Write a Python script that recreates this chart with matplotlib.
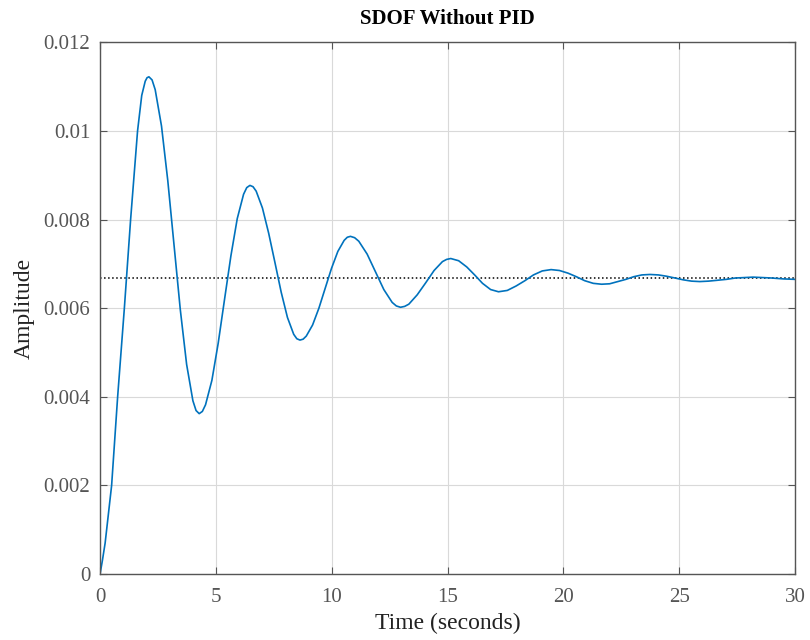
import numpy as np
import matplotlib
matplotlib.use('Agg')
from matplotlib import pyplot as plt
from matplotlib.ticker import FuncFormatter

# step response
time_s = [0, 0.1, 0.22, 0.5, 0.76, 1.05, 1.32, 1.47, 1.62, 1.8, 1.95, 2.03, 2.11,
          2.246, 2.381, 2.653, 2.924, 3.195, 3.466, 3.738, 4.009, 4.145, 4.28,
          4.417, 4.554, 4.828, 5.101, 5.375, 5.649, 5.923, 6.196, 6.333, 6.47,
          6.605, 6.74, 7.01, 7.28, 7.55, 7.82, 8.09, 8.36, 8.495, 8.63,
          8.766, 8.903, 9.175, 9.448, 9.72, 9.993, 10.265, 10.538, 10.674, 10.81,
          10.99, 11.17, 11.53, 11.89, 12.25, 12.61, 12.79, 12.97,
          13.15, 13.33, 13.69, 14.055, 14.42, 14.78, 14.96, 15.14,
          15.48, 15.83, 16.17, 16.51, 16.86, 17.2,
          17.58, 17.96, 18.34, 18.71, 19.09, 19.47,
          19.83, 20.2, 20.56, 20.92, 21.29, 21.65,
          22.0, 22.35, 22.7, 23.04, 23.39, 23.74,
          24.1, 24.46, 24.82, 25.17, 25.53, 25.89,
          26.27, 26.66, 27.04, 27.42, 27.81, 28.19,
          28.6, 29.0, 29.5, 30.0]
amplitude = [0, 0.0003, 0.0007, 0.0020, 0.0040, 0.0060, 0.0080, 0.0090, 0.0100, 0.0108,
             0.01112, 0.0112, 0.01122,
             0.01115, 0.01093, 0.01011, 0.00888, 0.00742, 0.00596, 0.00473, 0.00391,
             0.00369, 0.00362,
             0.00367, 0.00382, 0.00437, 0.00521, 0.00620, 0.00718, 0.00802, 0.00857,
             0.00872, 0.00877,
             0.00874, 0.00864, 0.00826, 0.00769, 0.00703, 0.00636, 0.00579, 0.00541,
             0.00531, 0.00528,
             0.00530, 0.00537, 0.00562, 0.00600, 0.00645, 0.00690, 0.00728, 0.00753,
             0.00760, 0.00762,
             0.00759, 0.00751, 0.00722, 0.00682, 0.00642, 0.00613, 0.00605, 0.00602,
             0.00604, 0.00609, 0.00630, 0.00657, 0.00685, 0.00705, 0.00710, 0.00712,
             0.00707, 0.00693, 0.00675, 0.00656, 0.00642, 0.00637,
             0.00640, 0.00650, 0.00662, 0.00675, 0.00684, 0.00687,
             0.00685, 0.00679, 0.00671, 0.00662, 0.00656, 0.00654,
             0.00655, 0.00660, 0.00665, 0.00671, 0.00675, 0.00676,
             0.00675, 0.00672, 0.00668, 0.00664, 0.00661, 0.00660,
             0.00661, 0.00663, 0.00665, 0.00668, 0.00669, 0.00670,
             0.00669, 0.00668, 0.00666, 0.00665]
steady_state = 0.00667
x_ticks = [0, 5, 10, 15, 20, 25, 30]
y_ticks = [0, 0.002, 0.004, 0.006, 0.008, 0.01, 0.012]


def plot_step():
    plt.rcParams['font.family'] = ['Liberation Serif', 'DejaVu Serif']
    fig = plt.figure(figsize=(8.1, 6.4), dpi=100)
    ax = fig.add_axes([0.1235, 0.103, 0.858, 0.831])

    ax.plot([0, 30], [steady_state, steady_state], ':', color='black', linewidth=1.1)
    ax.plot(time_s, amplitude, color=(0, 0.447, 0.741), linewidth=1.2)

    ax.set_xlim(0, 30)
    ax.set_ylim(0, 0.012)
    ax.set_xticks(x_ticks)
    ax.set_yticks(y_ticks)
    ax.yaxis.set_major_formatter(FuncFormatter(lambda v, p: '%g' % v))

    ax.grid(True, color='#d9d9d9', linewidth=0.8)
    ax.set_axisbelow(True)
    for s in ax.spines.values():
        s.set_color('#555555')
        s.set_linewidth(1.0)
    ax.tick_params(direction='in', top=True, right=True, length=5,
                   colors='#555555', labelsize=15)
    ax.tick_params(axis='x', pad=10)
    ax.tick_params(axis='y', pad=7)

    ax.set_title('SDOF Without PID', fontsize=15, fontweight='bold', pad=13)
    ax.set_xlabel('Time (seconds)', fontsize=17, color='#222222', labelpad=4)
    ax.set_ylabel('Amplitude', fontsize=17, color='#222222', labelpad=6)

    fig.savefig('out.png', dpi=100, facecolor='white')


if __name__ == '__main__':
    plot_step()
